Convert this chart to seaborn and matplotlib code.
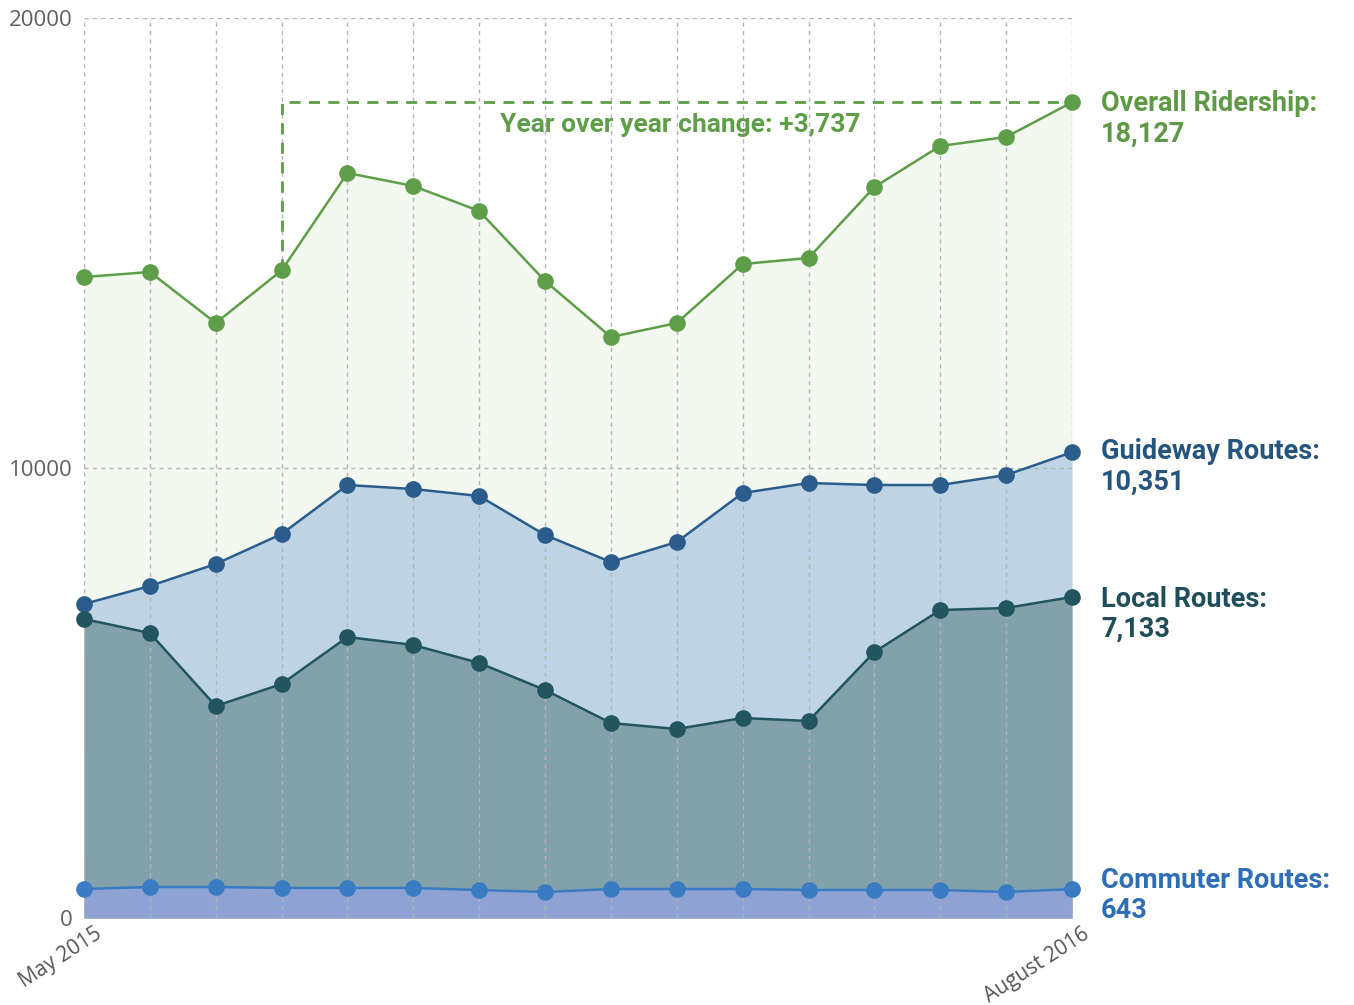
import numpy as np
import pandas as pd
import matplotlib
matplotlib.use("Agg")
import matplotlib.pyplot as plt
import matplotlib.transforms as mtransforms
import seaborn as sns

# ---------------- data ----------------
months = ["May 2015", "Jun 2015", "Jul 2015", "Aug 2015", "Sep 2015", "Oct 2015",
          "Nov 2015", "Dec 2015", "Jan 2016", "Feb 2016", "Mar 2016", "Apr 2016",
          "May 2016", "Jun 2016", "Jul 2016", "August 2016"]
overall = [14244, 14356, 13222, 14390, 16556, 16267, 15711, 14156,
           12911, 13222, 14533, 14667, 16244, 17156, 17356, 18127]
guideway = [6978, 7378, 7867, 8533, 9622, 9533, 9378, 8511,
            7911, 8356, 9444, 9667, 9622, 9622, 9844, 10351]
local = [6644, 6333, 4711, 5200, 6244, 6067, 5667, 5067,
         4333, 4200, 4444, 4378, 5911, 6844, 6889, 7133]
commuter = [644, 689, 689, 667, 667, 667, 622, 578,
            644, 644, 644, 622, 622, 622, 578, 643]
series_names = ["Overall Ridership", "Guideway Routes", "Local Routes", "Commuter Routes"]
y_ticks = [0, 10000, 20000]
yoy_start = "Aug 2015"

# ---------------- style ----------------
sns.set_theme(style="white")
label_font = ["Roboto", "DejaVu Sans"]
tick_font = ["Open Sans", "DejaVu Sans"]
plt.rcParams["font.family"] = tick_font

line_colors = ["#5e9e48", "#2b5d8c", "#21565f", "#3a7cc4"]
fill_colors = ["#f2f8f0", "#bed4e4", "#82a1aa", "#8ea2d4"]
label_colors = ["#5e9a45", "#25557f", "#1f4e5a", "#2f6db4"]
label_offsets = [12, 14, 11, 22]  # px above point for label top

values = [overall, guideway, local, commuter]
x = np.arange(len(months))

df = pd.DataFrame({
    "x": np.tile(x, 4),
    "value": np.concatenate(values),
    "series": np.repeat(series_names, len(months)),
})

fig = plt.figure(figsize=(13.54, 10.05), dpi=100)
ax = fig.add_axes([84 / 1354, 87 / 1005, (1072 - 84) / 1354, 900 / 1005])

# fills
for i, v in enumerate(values):
    ax.fill_between(x, 0, v, color=fill_colors[i], zorder=0.1 + i * 0.01, linewidth=0)

# lines
sns.lineplot(data=df, x="x", y="value", hue="series", hue_order=series_names,
             palette=line_colors, marker="o", markersize=12, markeredgewidth=0,
             linewidth=1.8, legend=False, ax=ax, zorder=3)
for ln in ax.lines:
    ln.set_clip_on(False)

ax.set_xlim(0, len(months) - 1)
ax.set_ylim(0, 20000)
ax.set_axisbelow(True)
ax.set_xticks(x)
ax.set_xticklabels([m if i in (0, len(months) - 1) else "" for i, m in enumerate(months)])
ax.set_yticks(y_ticks)
ax.set_yticklabels([str(t) for t in y_ticks])
ax.grid(True, color="#b4b4b4", linestyle=(0, (3, 3)), linewidth=1.0)
for s in ax.spines.values():
    s.set_visible(False)
ax.set_xlabel("")
ax.set_ylabel("")
ax.tick_params(axis="both", length=0)
ax.tick_params(axis="y", labelsize=16, labelcolor="#606060", pad=8)
ax.tick_params(axis="x", labelsize=15, labelcolor="#555555", pad=4)
shift = mtransforms.ScaledTranslation(10 / 100, 0, fig.dpi_scale_trans)
for lab in ax.get_xticklabels():
    lab.set_rotation(33)
    lab.set_ha("right")
    lab.set_rotation_mode("anchor")
    lab.set_transform(lab.get_transform() + shift)

# year over year annotation
i0 = months.index(yoy_start)
last = len(months) - 1
ax.plot([i0, i0, last], [overall[i0], overall[last], overall[last]],
        color="#5e9e48", linestyle=(0, (4, 3)), linewidth=2, zorder=2.5, clip_on=False)
change = overall[last] - overall[i0]
ax.text((i0 + last) / 2 + 0.05, overall[last] - 230, f"Year over year change: +{change:,}",
        ha="center", va="top", color="#5e9e48", fontsize=19, fontweight="bold",
        family=label_font, zorder=4)

# right-hand labels
for i, v in enumerate(values):
    ax.annotate(f"{series_names[i]}:\n{v[last]:,}", xy=(last, v[last]),
                xytext=(29 * 0.72, label_offsets[i] * 0.72), textcoords="offset points",
                ha="left", va="top", color=label_colors[i], fontsize=19.5,
                fontweight="bold", family=label_font, linespacing=1.15,
                annotation_clip=False)

fig.savefig("out.png", dpi=100)
